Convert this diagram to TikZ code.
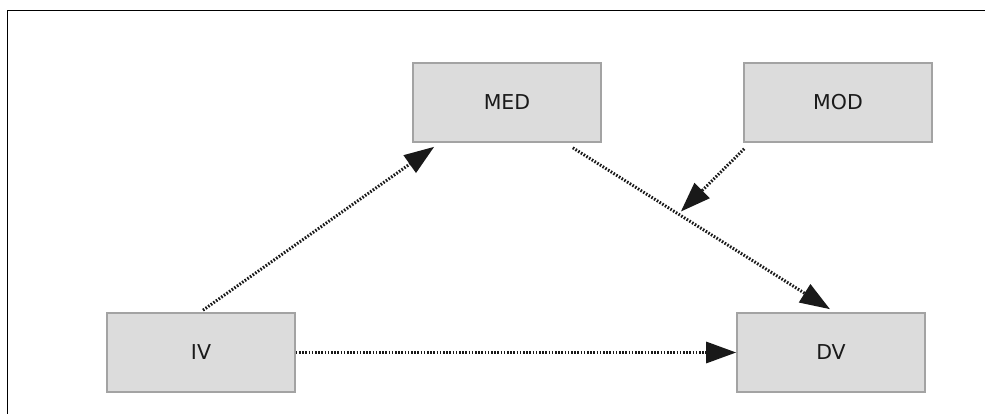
\documentclass[tikz,border=0pt]{standalone}
\usepackage{fontspec}
\setmainfont{DejaVu Sans}
\usetikzlibrary{arrows.meta,calc}
\definecolor{boxfill}{HTML}{DCDCDC}
\definecolor{boxline}{HTML}{A3A3A3}
\definecolor{txt}{HTML}{1A1A1A}
\tikzset{
  varbox/.style={draw=boxline, line width=1.6pt, fill=boxfill, minimum width=188pt, minimum height=79pt, inner sep=0pt, text=txt, font=\fontsize{20.5}{24}\selectfont},
  dotarrow/.style={line width=3pt, black!90, dash pattern=on 1.6pt off 1.6pt, -{Triangle[length=30pt,width=21pt]}}
}
\begin{document}
\begin{tikzpicture}[x=1pt,y=-1pt]
\useasboundingbox (0,0) rectangle (985,414);
\draw[line width=1.2pt] (7.5,414) -- (7.5,10.5) -- (985,10.5);
\node[varbox] (med) at (507,102.5) {MED};
\node[varbox] (mod) at (838,102.5) {MOD};
\node[varbox] (iv) at (201,352.5) {IV};
\node[varbox] (dv) at (831,352.5) {DV};
\coordinate (ivtop) at ($(iv.north)+(2,-2)$);
\coordinate (medin) at ($(med.south west)+(22,4)$);
\coordinate (medout) at ($(med.south east)+(-29,5)$);
\coordinate (dvin) at ($(dv.north)+(-1,-3)$);
\coordinate (modout) at ($(mod.south west)+(1,6)$);
\coordinate (mid) at ($(medout)!0.42!(dvin)+(0,-4)$);
\draw[dotarrow] (ivtop) -- (medin);
\draw[dotarrow] (medout) -- (dvin);
\draw[dotarrow] (modout) -- (mid);
\draw[dotarrow] (iv.east) -- (dv.west);
\end{tikzpicture}
\end{document}
